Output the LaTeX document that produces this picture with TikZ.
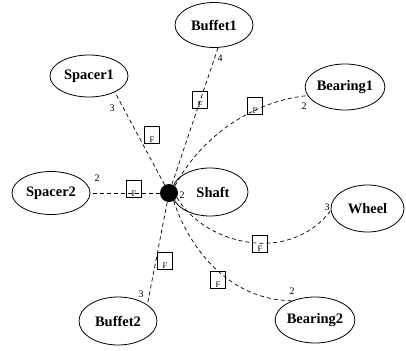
\documentclass[tikz,border=0pt]{standalone}
\usepackage{fontspec}
\setmainfont{Liberation Serif}
\usetikzlibrary{shapes.geometric}
\begin{document}
\begin{tikzpicture}[x=1pt,y=-1pt,
  ell/.style={draw,ellipse,line width=0.8pt,inner sep=0pt,minimum width=78pt,minimum height=45pt,font=\fontsize{14.5}{16}\selectfont\bfseries},
  conn/.style={draw,line width=0.7pt,dash pattern=on 4pt off 3pt},
  num/.style={font=\fontsize{10}{11}\selectfont,inner sep=0pt},
  fbox/.style={draw,line width=0.7pt,fill=none,minimum width=15pt,minimum height=17pt,inner sep=0pt,
     label={[anchor=south,inner sep=1pt,font=\fontsize{8.5}{9}\selectfont]south:F}}]
\useasboundingbox (0,0) rectangle (406,350);
% nodes
\node[ell] (buffet1) at (214,25) {Buffet1};
\node[ell,minimum height=42pt] (spacer1) at (89,76) {Spacer1};
\node[ell,minimum height=46pt] (bearing1) at (345,87) {Bearing1};
\node[ell,minimum width=76pt,minimum height=48pt] (shaft) at (210,192) {\hspace*{6pt}Shaft};
\node[ell,minimum height=43pt] (spacer2) at (51,193) {Spacer2};
\node[ell,minimum width=73pt,minimum height=47pt] (wheel) at (367.5,208.5) {Wheel};
\node[ell,minimum height=48pt] (buffet2) at (118,321) {Buffet2};
\node[ell,minimum height=46pt] (bearing2) at (315,320) {Bearing2};
\node[circle,fill=black,minimum size=18pt,inner sep=0pt] (dot) at (169,193) {};
% connectors
\draw[conn] (dot) -- (buffet1.-80);
\draw[conn] (dot) -- (spacer1.-32);
\draw[conn] (dot) -- (spacer2.0);
\draw[conn] (dot) -- (buffet2.29);
\draw[conn] (dot.50) .. controls (205,130) and (260,100) .. (bearing1.193);
\draw[conn] (dot.-30) .. controls (205,245) and (290,265) .. (wheel.183);
\draw[conn] (dot.-60) .. controls (190,250) and (230,300) .. (bearing2.140);
% edge label boxes
\node[fbox] (f1) at (200,100) {};
\node[fbox] (f2) at (255,106) {};
\node[fbox] (f3) at (152,135) {};
\node[fbox] (f4) at (134,189) {};
\node[fbox] (f5) at (260,244) {};
\node[fbox] (f6) at (165,261) {};
\node[fbox] (f7) at (218,280) {};
% numbers
\node[num] (n1) at (220,58) {4};
\node[num] (n2) at (112,108) {3};
\node[num] (n3) at (304,106) {2};
\node[num] (n4) at (97,178) {2};
\node[num] (n5) at (182,195) {2};
\node[num] (n6) at (327,207) {3};
\node[num] (n7) at (141,294) {3};
\node[num] (n8) at (292,291) {2};
\end{tikzpicture}
\end{document}
